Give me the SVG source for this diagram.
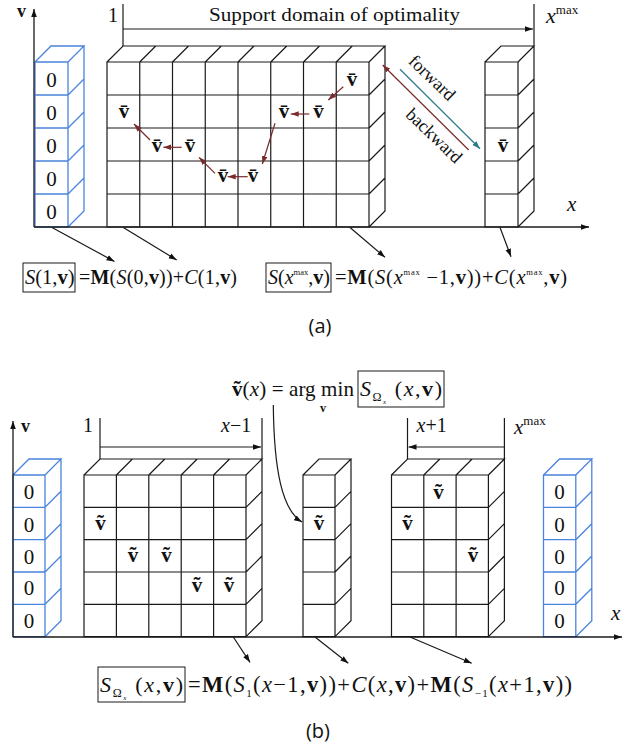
<svg xmlns="http://www.w3.org/2000/svg" width="641" height="751" viewBox="0 0 641 751">
<style>
.k{fill:none;stroke:#1a1a1a;stroke-width:1.2}
.bl{fill:none;stroke:#4a84dc;stroke-width:1.3}
.ax{fill:none;stroke:#1a1a1a;stroke-width:1.3}
.t{font-family:"Liberation Serif","Times New Roman",serif;fill:#111}
.z{font-size:21px;text-anchor:middle}
.vb{font-size:21px;font-weight:bold;text-anchor:middle}
.i{font-style:italic}
.b{font-weight:bold}
.cap{font-family:"Open Sans","Noto Sans",sans-serif;font-size:20px;fill:#111;text-anchor:middle}
.rd{fill:none;stroke:#7a2b2b;stroke-width:1.2}
.tl{fill:none;stroke:#2a7b8c;stroke-width:1.2}
.bx{fill:none;stroke:#1a1a1a;stroke-width:1}
</style>
<defs>
<marker id="ak" viewBox="0 0 10 10" refX="10" refY="5" markerWidth="8" markerHeight="8" markerUnits="userSpaceOnUse" orient="auto"><path d="M0,1.5L10,5L0,8.5Z" fill="#111"/></marker>
<marker id="ar" viewBox="0 0 10 10" refX="10" refY="5" markerWidth="8" markerHeight="8" markerUnits="userSpaceOnUse" orient="auto"><path d="M0,1.5L10,5L0,8.5Z" fill="#7a2b2b"/></marker>
<marker id="at" viewBox="0 0 10 10" refX="10" refY="5" markerWidth="8" markerHeight="8" markerUnits="userSpaceOnUse" orient="auto"><path d="M0,1.5L10,5L0,8.5Z" fill="#2a7b8c"/></marker>
</defs>

<!-- ===== (a) ===== -->
<g id="a-zero-col">
<path class="bl" d="M35,62H68V227H35Z M35,95H68 M35,128H68 M35,161H68 M35,194H68 M35,62L51,46H84L68,62 M84,46V211L68,227 M68,95L84,79 M68,128L84,112 M68,161L84,145 M68,194L84,178"/>
<text class="t z" x="51.5" y="87">0</text>
<text class="t z" x="51.5" y="120">0</text>
<text class="t z" x="51.5" y="153">0</text>
<text class="t z" x="51.5" y="186">0</text>
<text class="t z" x="51.5" y="219">0</text>
</g>

<g id="a-grid">
<path class="k" d="M107,62H369V227H107Z M107,95H369 M107,128H369 M107,161H369 M107,194H369 M139.75,62V227 M172.5,62V227 M205.25,62V227 M238,62V227 M270.75,62V227 M303.5,62V227 M336.25,62V227 M107,62L123,46H385L369,62 M139.75,62l16,-16 M172.5,62l16,-16 M205.25,62l16,-16 M238,62l16,-16 M270.75,62l16,-16 M303.5,62l16,-16 M336.25,62l16,-16 M385,46V211L369,227 M369,95l16,-16 M369,128l16,-16 M369,161l16,-16 M369,194l16,-16"/>
<text class="t vb" x="352" y="86">v&#x304;</text>
<text class="t vb" x="124" y="118">v&#x304;</text>
<text class="t vb" x="284" y="118">v&#x304;</text>
<text class="t vb" x="318.5" y="118">v&#x304;</text>
<text class="t vb" x="157" y="152">v&#x304;</text>
<text class="t vb" x="190" y="152">v&#x304;</text>
<text class="t vb" x="223" y="182">v&#x304;</text>
<text class="t vb" x="253" y="182">v&#x304;</text>
</g>

<g id="a-xmax-col">
<path class="k" d="M485,62H518V227H485Z M485,95H518 M485,128H518 M485,161H518 M485,194H518 M485,62L501,46H534L518,62 M534,4V211L518,227 M518,95l16,-16 M518,128l16,-16 M518,161l16,-16 M518,194l16,-16"/>
<text class="t vb" x="503" y="152">v&#x304;</text>
</g>

<g id="a-axes">
<path class="ax" d="M34,227V9" marker-end="url(#ak)"/>
<path class="ax" d="M34,227H589" marker-end="url(#ak)"/>
<text class="t b" x="17" y="17" font-size="18">v</text>
<text class="t i" x="567" y="211" font-size="21">x</text>
</g>

<g id="a-support">
<path class="k" d="M123,4V46"/>
<path class="k" d="M123,29H533" marker-end="url(#ak)"/>
<text class="t" x="113" y="22" font-size="20" text-anchor="middle">1</text>
<text class="t" x="209" y="21" font-size="19.5" textLength="251" lengthAdjust="spacingAndGlyphs">Support domain of optimality</text>
<text class="t" x="546" y="23" font-size="22"><tspan class="i">x</tspan><tspan dy="-9" font-size="13">max</tspan></text>
</g>

<g id="a-direction">
<text class="t" font-size="18" text-anchor="middle" transform="translate(428,82) rotate(44)">forward</text>
<text class="t" font-size="18" text-anchor="middle" transform="translate(430,140) rotate(44)">backward</text>
</g>

<g id="a-eq1">
<rect class="bx" x="23" y="263" width="52" height="29"/>
<text class="t" font-size="20.5" x="25" y="284"><tspan class="i">S</tspan>(1,<tspan class="b">v</tspan>)</text>
<text class="t" font-size="20" x="79" y="284" textLength="158" lengthAdjust="spacing">=<tspan class="b">M</tspan>(<tspan class="i">S</tspan>(0,<tspan class="b">v</tspan>))+<tspan class="i">C</tspan>(1,<tspan class="b">v</tspan>)</text>
</g>

<g id="a-eq2">
<rect class="bx" x="266" y="263" width="65" height="29"/>
<text class="t" font-size="20" x="268" y="284"><tspan class="i">S</tspan>(<tspan class="i">x</tspan><tspan dy="-9" font-size="8.5">max</tspan><tspan dy="9">,</tspan><tspan class="b">v</tspan>)</text>
<text class="t" font-size="20.5" x="335" y="284" textLength="232" lengthAdjust="spacing">=<tspan class="b">M</tspan>(<tspan class="i">S</tspan>(<tspan class="i">x</tspan><tspan dy="-9" font-size="8.5">max</tspan><tspan dy="9"> −1,</tspan><tspan class="b">v</tspan>))+<tspan class="i">C</tspan>(<tspan class="i">x</tspan><tspan dy="-9" font-size="8.5">max</tspan><tspan dy="9">,</tspan><tspan class="b">v</tspan>)</text>
</g>

<text class="cap" x="320" y="333">(a)</text>

<!-- ===== (b) ===== -->
<g id="b-zero-left">
<path class="bl" d="M13,475H45V636.67H13Z M13,507.33H45 M13,539.67H45 M13,572H45 M13,604.33H45 M13,475L29,459H61L45,475 M61,459V620.67L45,636.67 M45,507.33l16,-16 M45,539.67l16,-16 M45,572l16,-16 M45,604.33l16,-16"/>
<text class="t z" x="29" y="499">0</text>
<text class="t z" x="29" y="532">0</text>
<text class="t z" x="29" y="564">0</text>
<text class="t z" x="29" y="595">0</text>
<text class="t z" x="29" y="628">0</text>
</g>

<g id="b-grid-left">
<path class="k" d="M84,475H246V636.67H84Z M84,507.33H246 M84,539.67H246 M84,572H246 M84,604.33H246 M116.4,475V636.67 M148.8,475V636.67 M181.2,475V636.67 M213.6,475V636.67 M84,475L100,459H262L246,475 M116.4,475l16,-16 M148.8,475l16,-16 M181.2,475l16,-16 M213.6,475l16,-16 M262,418V620.67L246,636.67 M246,507.33l16,-16 M246,539.67l16,-16 M246,572l16,-16 M246,604.33l16,-16"/>
<text class="t vb" x="100.5" y="530">v&#x303;</text>
<text class="t vb" x="133" y="562">v&#x303;</text>
<text class="t vb" x="166.5" y="562">v&#x303;</text>
<text class="t vb" x="197" y="592">v&#x303;</text>
<text class="t vb" x="229" y="592">v&#x303;</text>
</g>

<g id="b-left-range">
<path class="k" d="M100,418V459"/>
<path class="k" d="M100,447H261" marker-end="url(#ak)"/>
<text class="t" x="88" y="432" font-size="20" text-anchor="middle">1</text>
<text class="t" x="221" y="432" font-size="20"><tspan class="i">x</tspan>−1</text>
</g>

<g id="b-col-x">
<path class="k" d="M303,475H335V636.67H303Z M303,507.33H335 M303,539.67H335 M303,572H335 M303,604.33H335 M303,475L319,459H351L335,475 M351,459V620.67L335,636.67 M335,507.33l16,-16 M335,539.67l16,-16 M335,572l16,-16 M335,604.33l16,-16"/>
<text class="t vb" x="319" y="530">v&#x303;</text>
</g>

<g id="b-grid-right">
<path class="k" d="M391.5,475H488.4V636.67H391.5Z M391.5,507.33H488.4 M391.5,539.67H488.4 M391.5,572H488.4 M391.5,604.33H488.4 M423.8,475V636.67 M456.1,475V636.67 M391.5,475L407.5,459H504.4L488.4,475 M423.8,475l16,-16 M456.1,475l16,-16 M504.4,418V620.67L488.4,636.67 M488.4,507.33l16,-16 M488.4,539.67l16,-16 M488.4,572l16,-16 M488.4,604.33l16,-16"/>
<text class="t vb" x="438.5" y="499">v&#x303;</text>
<text class="t vb" x="407.5" y="530">v&#x303;</text>
<text class="t vb" x="473" y="562">v&#x303;</text>
</g>

<g id="b-right-range">
<path class="k" d="M407.5,418V459"/>
<path class="k" d="M504.4,447H408.5" marker-end="url(#ak)"/>
<text class="t" x="416.5" y="432" font-size="20"><tspan class="i">x</tspan>+1</text>
<text class="t" x="514" y="434" font-size="21"><tspan class="i">x</tspan><tspan dy="-9" font-size="13">max</tspan></text>
</g>

<g id="b-zero-right">
<path class="bl" d="M543.5,475H575.8V636.67H543.5Z M543.5,507.33H575.8 M543.5,539.67H575.8 M543.5,572H575.8 M543.5,604.33H575.8 M543.5,475L559.5,459H591.8L575.8,475 M591.8,459V620.67L575.8,636.67 M575.8,507.33l16,-16 M575.8,539.67l16,-16 M575.8,572l16,-16 M575.8,604.33l16,-16"/>
<text class="t z" x="559.5" y="499">0</text>
<text class="t z" x="559.5" y="532">0</text>
<text class="t z" x="559.5" y="564">0</text>
<text class="t z" x="559.5" y="595">0</text>
<text class="t z" x="559.5" y="628">0</text>
</g>

<g id="b-axes">
<path class="ax" d="M13,637V421" marker-end="url(#ak)"/>
<path class="ax" d="M13,637H622" marker-end="url(#ak)"/>
<text class="t b" x="21" y="432" font-size="18">v</text>
<text class="t i" x="611" y="620" font-size="21">x</text>
</g>

<g id="b-argmin">
<text class="t" font-size="21" x="232" y="396" textLength="122" lengthAdjust="spacing"><tspan class="b">v&#x303;</tspan>(<tspan class="i">x</tspan>) = arg min</text>
<text class="t b" x="323" y="412" font-size="12" text-anchor="middle">v</text>
<rect class="bx" x="358" y="371" width="86" height="36"/>
<text class="t" font-size="22" x="360" y="396" textLength="82" lengthAdjust="spacing"><tspan class="i">S</tspan><tspan dy="5" font-size="12">Ω</tspan><tspan dy="3" font-size="7" class="i">x</tspan><tspan dy="-8"> (</tspan><tspan class="i">x</tspan>,<tspan class="b">v</tspan>)</text>
</g>

<g id="b-eq">
<rect class="bx" x="98" y="667" width="87" height="35"/>
<text class="t" font-size="22" x="100" y="692" textLength="83" lengthAdjust="spacing"><tspan class="i">S</tspan><tspan dy="5" font-size="12">Ω</tspan><tspan dy="3" font-size="7" class="i">x</tspan><tspan dy="-8"> (</tspan><tspan class="i">x</tspan>,<tspan class="b">v</tspan>)</text>
<text class="t" font-size="22.5" x="188" y="692" textLength="384" lengthAdjust="spacing">=<tspan class="b">M</tspan>(<tspan class="i">S</tspan><tspan dy="5" font-size="11">1</tspan><tspan dy="-5">(</tspan><tspan class="i">x</tspan>−1,<tspan class="b">v</tspan>))+<tspan class="i">C</tspan>(<tspan class="i">x</tspan>,<tspan class="b">v</tspan>)+<tspan class="b">M</tspan>(<tspan class="i">S</tspan><tspan dy="5" font-size="11">−1</tspan><tspan dy="-5">(</tspan><tspan class="i">x</tspan>+1,<tspan class="b">v</tspan>))</text>
</g>

<text class="cap" x="318" y="738">(b)</text>

<g id="connectors">
<path class="rd" d="M343.3,86.7L328.3,100" marker-end="url(#ar)"/>
<path class="rd" d="M309.3,114L290.7,114" marker-end="url(#ar)"/>
<path class="rd" d="M275,123.3L262.3,164" marker-end="url(#ar)"/>
<path class="rd" d="M247.7,176.7L227.7,176.7" marker-end="url(#ar)"/>
<path class="rd" d="M215,173.3L199,157.3" marker-end="url(#ar)"/>
<path class="rd" d="M181.7,147.3L163.3,147.3" marker-end="url(#ar)"/>
<path class="rd" d="M150,140L134,124" marker-end="url(#ar)"/>
<path class="tl" d="M400,69.3L480,148.7" marker-end="url(#at)"/>
<path class="rd" d="M468.7,150L382.7,65" marker-end="url(#ar)"/>
<path class="k" d="M52,227.5L114.5,261.5" marker-end="url(#ak)"/>
<path class="k" d="M123.3,227.5L176.7,260" marker-end="url(#ak)"/>
<path class="k" d="M350,227.5L385,257.3" marker-end="url(#ak)"/>
<path class="k" d="M500,227.5L511,256.7" marker-end="url(#ak)"/>
<path class="k" d="M273.3,405C274,470 282,510 302,522" marker-end="url(#ak)"/>
<path class="k" d="M233.3,637L250,662.3" marker-end="url(#ak)"/>
<path class="k" d="M315,637L348.3,663.3" marker-end="url(#ak)"/>
<path class="k" d="M410,637L471.7,663.3" marker-end="url(#ak)"/>
</g>
</svg>
